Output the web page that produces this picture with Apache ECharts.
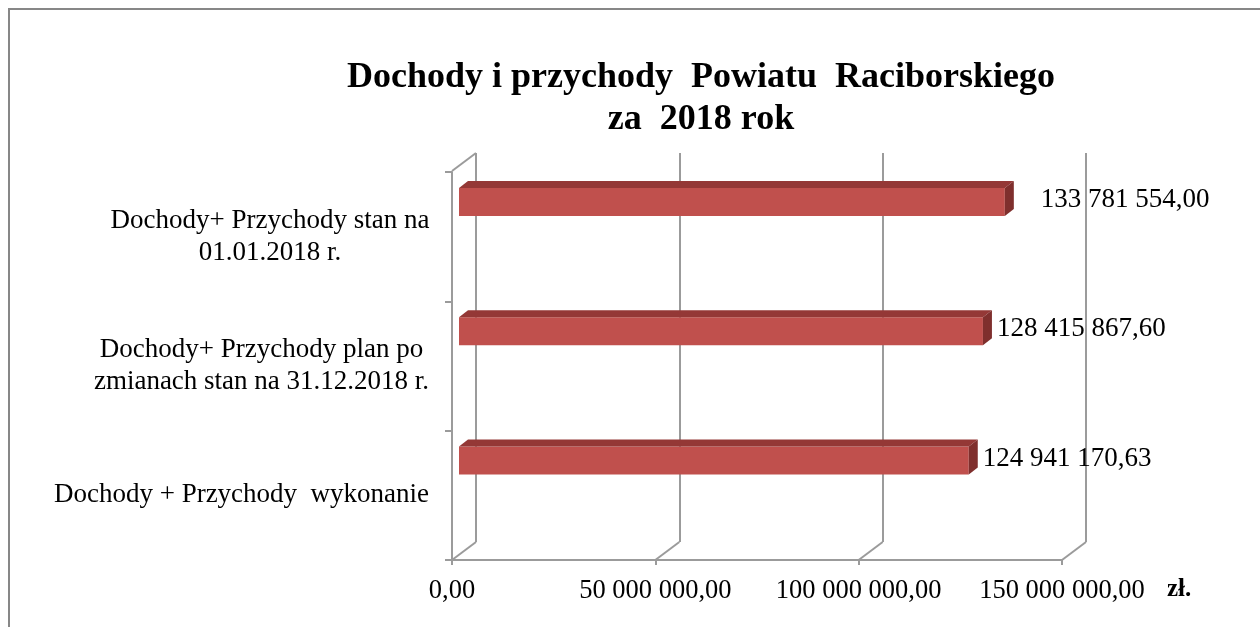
<!DOCTYPE html>
<html>
<head>
<meta charset="utf-8">
<script src="https://cdn.jsdelivr.net/npm/echarts@6/dist/echarts.min.js"></script>
<style>
html,body{margin:0;padding:0;background:#fff;}
#chart{width:1260px;height:627px;}
</style>
</head>
<body>
<div id="chart"></div>
<script>
// ---- data ----
const categories = [
  'Dochody + Przychody  wykonanie',
  'Dochody+ Przychody plan po\nzmianach stan na 31.12.2018 r.',
  'Dochody+ Przychody stan na\n01.01.2018 r.'
];
const values = [124941170.63, 128415867.60, 133781554.00];
const xTicks = [0, 50000000, 100000000, 150000000];
const axisMin = 0;
const axisMax = 150000000;
const axisInterval = 50000000;
const titleText = 'Dochody i przychody  Powiatu  Raciborskiego\nza  2018 rok';
const unitText = 'zł.';

// ---- helpers ----
const FONT = '"Liberation Serif", "Times New Roman", serif';
const GRID_COLOR = '#9b9b9b';
const LABEL_SIZE = 27;
function fmt(v) {
  const parts = v.toFixed(2).split('.');
  const intPart = parts[0].replace(/\B(?=(\d{3})+(?!\d))/g, ' ');
  return intPart + ',' + parts[1];
}
const mctx = document.createElement('canvas').getContext('2d');
mctx.font = LABEL_SIZE + 'px ' + FONT;
const rich = {};
categories.forEach((c, i) => {
  const w = Math.max.apply(null, c.split('\n').map(l => mctx.measureText(l).width));
  rich['c' + i] = {width: Math.ceil(w) + 1, align: 'center', fontSize: LABEL_SIZE, fontFamily: FONT, color: '#000', lineHeight: 32};
});

const DX = 9, DY = -7;

const chart = echarts.init(document.getElementById('chart'), null, {renderer: 'canvas'});
chart.setOption({
  animation: false,
  backgroundColor: '#fff',
  graphic: [
    {type: 'rect', shape: {x: 9, y: 9, width: 1300, height: 700}, style: {fill: 'none', stroke: '#878787', lineWidth: 2}, z: 0},
    {type: 'text', x: 701, y: 99, style: {text: titleText, font: 'bold 36px ' + FONT, fill: '#000', align: 'center', verticalAlign: 'middle', lineHeight: 42}},
    {type: 'text', x: 1167, y: 590, style: {text: unitText, font: 'bold 25px ' + FONT, fill: '#000', align: 'left', verticalAlign: 'middle'}}
  ],
  grid: [
    {left: 476, top: 153, width: 610, height: 389},
    {left: 452, top: 172, width: 610, height: 388},
    {left: 459, top: 137.5, width: 612, height: 387.5}
  ],
  xAxis: [
    {gridIndex: 0, type: 'value', min: axisMin, max: axisMax, interval: axisInterval,
      axisLabel: {show: false}, axisLine: {show: false}, axisTick: {show: false},
      splitLine: {show: true, lineStyle: {color: GRID_COLOR, width: 2}}},
    {gridIndex: 1, type: 'value', min: axisMin, max: axisMax, interval: axisInterval,
      axisLine: {show: true, lineStyle: {color: GRID_COLOR, width: 2}},
      axisTick: {show: true, length: 5, lineStyle: {color: GRID_COLOR, width: 2}},
      splitLine: {show: false},
      axisLabel: {formatter: v => fmt(v), fontFamily: FONT, fontSize: 26.5, color: '#000', margin: 18}},
    {gridIndex: 2, type: 'value', min: axisMin, max: axisMax, show: false}
  ],
  yAxis: [
    {gridIndex: 0, type: 'value', min: 0, max: 1, show: false},
    {gridIndex: 1, type: 'category', data: categories,
      axisLine: {show: true, lineStyle: {color: GRID_COLOR, width: 2}},
      axisTick: {show: true, length: 7, lineStyle: {color: GRID_COLOR, width: 2}},
      axisLabel: {margin: 22, align: 'right', rich: rich,
        formatter: (val, idx) => val.split('\n').map(l => '{c' + idx + '|' + l + '}').join('\n')}},
    {gridIndex: 2, type: 'category', data: categories, show: false}
  ],
  series: [
    {
      type: 'custom', xAxisIndex: 0, yAxisIndex: 0, silent: true, z: 1,
      data: xTicks.map(v => [v, 0]),
      encode: {x: 0, y: 1},
      renderItem: function (params, api) {
        const p = api.coord([api.value(0), 0]);
        const children = [{type: 'line', shape: {x1: p[0], y1: p[1], x2: p[0] - 24, y2: p[1] + 18},
          style: {stroke: GRID_COLOR, lineWidth: 2}}];
        if (params.dataIndex === 0) {
          const q = api.coord([api.value(0), 1]);
          children.push({type: 'line', shape: {x1: q[0], y1: q[1], x2: q[0] - 24, y2: q[1] + 18},
            style: {stroke: GRID_COLOR, lineWidth: 2}});
        }
        return {type: 'group', children: children};
      }
    },
    {
      type: 'custom', xAxisIndex: 2, yAxisIndex: 2, z: 5,
      data: values.map((v, i) => [v, i]),
      encode: {x: 0, y: 1},
      renderItem: function (params, api) {
        const v = api.value(0), c = api.value(1);
        const end = api.coord([v, c]);
        const start = api.coord([0, c]);
        const band = api.size([0, 1])[1];
        const h = band * 0.2166;
        const x0 = start[0], x1 = end[0];
        const yt = end[1] - h / 2, yb = end[1] + h / 2;
        const gap = c === 2 ? 36 : 14;
        return {type: 'group', children: [
          {type: 'rect', shape: {x: x0, y: yt, width: x1 - x0, height: h}, style: {fill: '#C0504D'}},
          {type: 'polygon', shape: {points: [[x0, yt], [x0 + DX, yt + DY], [x1 + DX, yt + DY], [x1, yt]]}, style: {fill: '#943836'}},
          {type: 'polygon', shape: {points: [[x1, yt], [x1 + DX, yt + DY], [x1 + DX, yb + DY], [x1, yb]]}, style: {fill: '#7f2f2d'}},
          {type: 'text', style: {x: x1 + gap, y: end[1] - 2, text: fmt(v), font: LABEL_SIZE + 'px ' + FONT, fill: '#000', align: 'left', verticalAlign: 'middle'}}
        ]};
      }
    }
  ]
});
</script>
</body>
</html>
